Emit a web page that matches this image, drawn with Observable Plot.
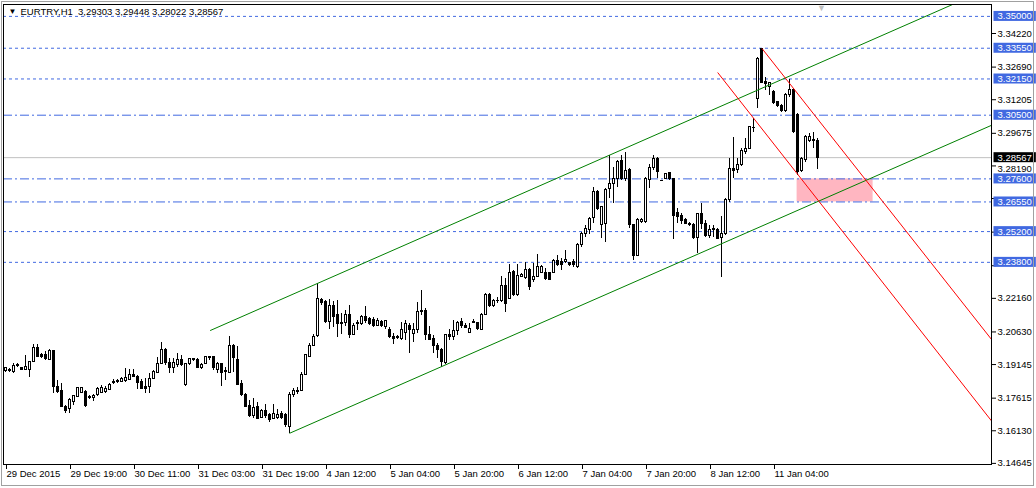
<!DOCTYPE html>
<html><head><meta charset="utf-8">
<script src="https://cdn.jsdelivr.net/npm/d3@7"></script>
<script src="https://cdn.jsdelivr.net/npm/@observablehq/plot@0.6"></script>
<style>
html,body{margin:0;padding:0;background:#fff;}
#chart{width:1036px;height:488px;}
</style></head><body><div id="chart"></div>
<script>
// ---- header ----
const symbolTitle = "EURTRY,H1\u00a0\u00a03,29303 3,29448 3,28022 3,28567";

// ---- OHLC (hourly bars, index 0 = 29 Dec 2015 03:00) ----
const open = [
3.1884,3.1891,3.1880,3.1906,3.1899,3.1890,3.1890,3.1928,3.1990,3.1956,
3.1959,3.1936,3.1975,3.1814,3.1796,3.1723,3.1713,3.1746,3.1766,3.1784,
3.1791,3.1769,3.1763,3.1774,3.1784,3.1789,3.1799,3.1836,3.1833,3.1834,
3.1839,3.1845,3.1865,3.1860,3.1834,3.1811,3.1811,3.1849,3.1875,3.1918,
3.1983,3.1921,3.1899,3.1913,3.1936,3.1822,3.1918,3.1933,3.1936,3.1898,
3.1918,3.1945,3.1948,3.1890,3.1915,3.1880,3.1877,3.1998,3.1936,3.1827,
3.1778,3.1728,3.1678,3.1723,3.1672,3.1705,3.1683,3.1667,3.1672,3.1690,
3.1687,3.1629,3.1777,3.1789,3.1796,3.1868,3.1951,3.2001,3.2044,3.2209,
3.2198,3.2108,3.2182,3.2138,3.2100,3.2103,3.2142,3.2051,3.2097,3.2100,
3.2133,3.2120,3.2118,3.2092,3.2108,3.2085,3.2073,3.2042,3.2036,3.2032,
3.2057,3.2092,3.2054,3.2070,3.2158,3.2158,3.2047,3.2029,3.2001,3.1983,
3.1922,3.2050,3.2039,3.2066,3.2108,3.2088,3.2057,3.2106,3.2103,3.2073,
3.2142,3.2229,3.2179,3.2203,3.2203,3.2270,3.2214,3.2335,3.2229,3.2315,
3.2308,3.2346,3.2300,3.2315,3.2331,3.2331,3.2331,3.2331,3.2385,3.2381,
3.2381,3.2376,3.2381,3.2361,3.2461,3.2507,3.2525,3.2583,3.2700,3.2552,
3.2555,3.2715,3.2738,3.2760,3.2841,3.2760,3.2801,3.2548,3.2411,3.2563,
3.2563,3.2756,3.2810,3.2851,3.2750,3.2760,3.2786,3.2760,3.2604,3.2593,
3.2575,3.2555,3.2552,3.2492,3.2598,3.2555,3.2502,3.2525,3.2528,3.2492,
3.2510,3.2662,3.2806,3.2801,3.2821,3.2882,3.2897,3.2992,3.3124,3.3352,
3.3200,3.3178,3.3155,3.3109,3.3094,3.3071,3.3140,3.3165,3.3053,3.2798,
3.2844,3.2932,3.2935,3.29303];
const high = [
3.1902,3.1895,3.1918,3.1918,3.1903,3.1956,3.1930,3.2006,3.2006,3.1963,
3.1975,3.1981,3.1978,3.1842,3.1827,3.1728,3.1759,3.1774,3.1811,3.1810,
3.1796,3.1774,3.1777,3.1808,3.1819,3.1814,3.1827,3.1845,3.1845,3.1857,
3.1895,3.1890,3.1890,3.1865,3.1845,3.1849,3.1872,3.1887,3.1945,3.2016,
3.1986,3.1941,3.1941,3.1963,3.1956,3.1921,3.1944,3.1942,3.1941,3.1918,
3.1951,3.1953,3.1951,3.1925,3.1921,3.1903,3.2044,3.2004,3.1997,3.1842,
3.1781,3.1751,3.1759,3.1743,3.1708,3.1733,3.1690,3.1733,3.1708,3.1701,
3.1690,3.1789,3.1804,3.1808,3.1880,3.1960,3.2009,3.2051,3.2282,3.2214,
3.2206,3.2209,3.2203,3.2206,3.2149,3.2161,3.2183,3.2100,3.2115,3.2138,
3.2179,3.2127,3.2130,3.2122,3.2115,3.2115,3.2082,3.2054,3.2047,3.2108,
3.2115,3.2103,3.2100,3.2198,3.2252,3.2168,3.2088,3.2047,3.2009,3.1989,
3.2051,3.2073,3.2115,3.2111,3.2126,3.2100,3.2100,3.2120,3.2108,3.2146,
3.2237,3.2237,3.2209,3.2221,3.2315,3.2305,3.2368,3.2343,3.2368,3.2328,
3.2381,3.2350,3.2376,3.2416,3.2366,3.2350,3.2335,3.2391,3.2411,3.2396,
3.2434,3.2381,3.2391,3.2465,3.2517,3.2548,3.2586,3.2722,3.2707,3.2634,
3.2715,3.2866,3.2810,3.2844,3.2866,3.2882,3.2806,3.2548,3.2578,3.2578,
3.2765,3.2826,3.2866,3.2856,3.2752,3.2786,3.2791,3.2763,3.2624,3.2601,
3.2578,3.2563,3.2555,3.2604,3.2646,3.2570,3.2548,3.2548,3.2533,3.2589,
3.2670,3.2851,3.2950,3.2851,3.2897,3.2942,3.2998,3.3033,3.3311,3.3356,
3.3223,3.3200,3.3162,3.3113,3.3097,3.3150,3.3211,3.3170,3.3056,3.2859,
3.2958,3.2965,3.2973,3.29448];
const low = [
3.1880,3.1880,3.1875,3.1903,3.1887,3.1887,3.1857,3.1925,3.1945,3.1941,
3.1933,3.1936,3.1781,3.1781,3.1720,3.1693,3.1690,3.1728,3.1763,3.1781,
3.1717,3.1755,3.1748,3.1771,3.1781,3.1784,3.1796,3.1824,3.1830,3.1831,
3.1834,3.1842,3.1854,3.1799,3.1799,3.1784,3.1784,3.1846,3.1872,3.1913,
3.1910,3.1875,3.1875,3.1903,3.1907,3.1814,3.1910,3.1930,3.1895,3.1890,
3.1915,3.1933,3.1887,3.1875,3.1816,3.1842,3.1872,3.1880,3.1819,3.1769,
3.1720,3.1672,3.1667,3.1663,3.1667,3.1667,3.1649,3.1663,3.1663,3.1663,
3.1629,3.1602,3.1766,3.1778,3.1793,3.1865,3.1945,3.1998,3.2039,3.2183,
3.2100,3.2073,3.2082,3.2039,3.2051,3.2088,3.2032,3.2047,3.2070,3.2092,
3.2100,3.2092,3.2082,3.2088,3.2082,3.2073,3.2032,3.2004,3.2027,3.2024,
3.2024,3.1966,3.2016,3.2054,3.2138,3.2024,3.2024,3.1966,3.1941,3.1903,
3.1915,3.2024,3.2024,3.2047,3.2077,3.2077,3.2054,3.2100,3.2070,3.2070,
3.2138,3.2176,3.2176,3.2191,3.2198,3.2153,3.2209,3.2224,3.2224,3.2313,
3.2300,3.2252,3.2290,3.2313,3.2328,3.2297,3.2297,3.2328,3.2361,3.2343,
3.2373,3.2361,3.2355,3.2350,3.2449,3.2495,3.2507,3.2555,3.2616,3.2487,
3.2472,3.2669,3.2646,3.2722,3.2753,3.2750,3.2533,3.2388,3.2411,3.2558,
3.2558,3.2715,3.2798,3.2760,3.2747,3.2757,3.2753,3.2482,3.2555,3.2552,
3.2552,3.2543,3.2482,3.2419,3.2528,3.2495,3.2487,3.2495,3.2482,3.2310,
3.2502,3.2654,3.2760,3.2786,3.2816,3.2870,3.2893,3.2973,3.3079,3.3193,
3.3162,3.3140,3.3101,3.3087,3.3064,3.3064,3.3132,3.2965,3.2775,3.2790,
3.2836,3.2927,3.2897,3.28022];
const close = [
3.1897,3.1886,3.1910,3.1913,3.1890,3.1903,3.1925,3.1990,3.1951,3.1948,
3.1941,3.1974,3.1811,3.1791,3.1723,3.1705,3.1751,3.1771,3.1807,3.1807,
3.1728,3.1761,3.1772,3.1804,3.1808,3.1804,3.1822,3.1831,3.1839,3.1849,
3.1854,3.1865,3.1860,3.1830,3.1804,3.1801,3.1849,3.1880,3.1918,3.1983,
3.1921,3.1899,3.1921,3.1936,3.1913,3.1918,3.1941,3.1939,3.1899,3.1913,
3.1948,3.1948,3.1899,3.1918,3.1875,3.1884,3.1998,3.1945,3.1822,3.1774,
3.1723,3.1678,3.1717,3.1667,3.1705,3.1678,3.1660,3.1690,3.1687,3.1672,
3.1637,3.1778,3.1792,3.1795,3.1869,3.1956,3.2001,3.2042,3.2214,3.2194,
3.2108,3.2179,3.2133,3.2100,3.2103,3.2142,3.2051,3.2092,3.2103,3.2133,
3.2115,3.2097,3.2092,3.2115,3.2088,3.2111,3.2039,3.2032,3.2042,3.2070,
3.2097,3.2073,3.2073,3.2156,3.2153,3.2047,3.2027,3.2001,3.1980,3.1925,
3.2050,3.2039,3.2066,3.2103,3.2088,3.2082,3.2077,3.2109,3.2077,3.2142,
3.2229,3.2179,3.2206,3.2206,3.2274,3.2191,3.2332,3.2229,3.2320,3.2323,
3.2346,3.2267,3.2315,3.2358,3.2358,3.2305,3.2300,3.2385,3.2370,3.2370,
3.2391,3.2370,3.2366,3.2461,3.2510,3.2533,3.2578,3.2700,3.2624,3.2631,
3.2710,3.2738,3.2760,3.2836,3.2760,3.2795,3.2548,3.2411,3.2574,3.2574,
3.2760,3.2810,3.2851,3.2791,3.2749,3.2783,3.2760,3.2593,3.2586,3.2570,
3.2555,3.2548,3.2492,3.2598,3.2555,3.2502,3.2528,3.2533,3.2487,3.2510,
3.2665,3.2806,3.2798,3.2821,3.2889,3.2898,3.2996,3.2991,3.3307,3.3196,
3.3193,3.3196,3.3105,3.3090,3.3071,3.3144,3.3165,3.2973,3.2790,3.2851,
3.2953,3.2950,3.2934,3.28567];

// ---- axes ----
const xTickBars = [0,16,32,48,64,80,96,112,128,144,160,176,192];
const xTickLabels = ["29 Dec 2015","29 Dec 19:00","30 Dec 11:00","31 Dec 03:00","31 Dec 19:00",
  "4 Jan 12:00","5 Jan 04:00","5 Jan 20:00","6 Jan 12:00","7 Jan 04:00","7 Jan 20:00","8 Jan 12:00","11 Jan 04:00"];
const yTickValues = [3.14645,3.16130,3.17615,3.19145,3.20630,3.22160,3.23645,3.25175,3.26705,3.28190,3.29675,3.31205,3.32690,3.34220];
const yTickHidden = [3.23645,3.25175,3.26705];
const yTickNudged = [3.28190];   // label pushed just below the current-price tag
const barDomain = [-0.5, 246.5];
const priceDomain = [3.14594, 3.35541];

// ---- horizontal levels ----
const levelPrices = [3.35000,3.33550,3.32150,3.30500,3.27600,3.26550,3.25200,3.23800];
const levelStyles = ["dash","dash","dash","dashdot","dashdot","dashdot","dash","dash"];
const lastPrice = 3.28567;
const shiftBar = 204;

// ---- trend objects ----
const greenUpperBars = [51.25, 246.5],  greenUpperPrices = [3.2070, 3.3632];
const greenLowerBars = [71.08, 246.5],  greenLowerPrices = [3.1602, 3.3004];
const redUpperBars   = [189.2, 246.5],  redUpperPrices   = [3.3352, 3.2029];
const redLowerBars   = [178.1, 246.5],  redLowerPrices   = [3.3243, 3.1658];
const zoneBars = [197.9, 216.9], zonePrices = [3.2760, 3.2655];

// ---- build tables ----
const bars = open.map((o, i) => ({i, o, h: high[i], l: low[i], c: close[i]}));
const seg = (bs, ps) => bs.map((b, k) => ({b, p: ps[k]}));
const levels = levelPrices.map((p, k) => ({p, s: levelStyles[k]}));
const zone = [{x1: zoneBars[0], x2: zoneBars[1], y1: zonePrices[0], y2: zonePrices[1]}];
const blue = "#4169e1";
const tags = levelPrices.map(p => ({p, bg: blue})).concat([{p: lastPrice, bg: "black"}]);

const svg = Plot.plot({
  width: 1036, height: 488,
  marginLeft: 3, marginRight: 45, marginTop: 4, marginBottom: 24,
  style: {fontFamily: "'Liberation Sans', Arial, sans-serif", fontSize: "9.5px", background: "white", color: "black"},
  x: {domain: barDomain},
  y: {domain: priceDomain},
  marks: [
    Plot.rect(zone, {x1: "x1", x2: "x2", y1: "y1", y2: "y2", fill: "#ffb6c1"}),
    Plot.ruleY(levels.filter(d => d.s === "dash"), {y: "p", stroke: blue, strokeDasharray: "3,3"}),
    Plot.ruleY(levels.filter(d => d.s === "dashdot"), {y: "p", stroke: blue, strokeDasharray: "9,3,2,3"}),
    Plot.ruleY([lastPrice], {stroke: "#c0c0c0"}),
    Plot.ruleX(bars, {x: "i", y1: "l", y2: "h", stroke: "black", shapeRendering: "crispEdges"}),
    Plot.rect(bars, {x1: d => d.i - 0.25, x2: d => d.i + 0.25, y1: "o", y2: "c",
      fill: d => d.c >= d.o ? "white" : "black", stroke: "black", shapeRendering: "crispEdges"}),
    Plot.line(seg(greenUpperBars, greenUpperPrices), {x: "b", y: "p", stroke: "#008000", strokeWidth: 1, clip: true}),
    Plot.line(seg(greenLowerBars, greenLowerPrices), {x: "b", y: "p", stroke: "#008000", strokeWidth: 1, clip: true}),
    Plot.line(seg(redUpperBars, redUpperPrices), {x: "b", y: "p", stroke: "red", strokeWidth: 1, clip: true}),
    Plot.line(seg(redLowerBars, redLowerPrices), {x: "b", y: "p", stroke: "red", strokeWidth: 1, clip: true}),
    Plot.frame({stroke: "black"}),
    Plot.axisX(xTickBars, {anchor: "bottom", tickSize: 5, tickPadding: 1, textAnchor: "start", dx: 1,
      label: null, tickFormat: d => xTickLabels[xTickBars.indexOf(d)]}),
    Plot.axisY(yTickValues, {anchor: "right", tickSize: 4, tickPadding: 2, textAnchor: "start", label: null,
      tickFormat: d => (yTickHidden.includes(d) || yTickNudged.includes(d)) ? "" : d.toFixed(5)}),
    Plot.text(yTickNudged, {y: d => d, text: d => d.toFixed(5), frameAnchor: "right", dx: 6, dy: 3,
      textAnchor: "start", fill: "black"}),
    Plot.text(tags, {y: "p", text: d => d.p.toFixed(5), frameAnchor: "right", dx: 6,
      textAnchor: "start", fill: "white"}),
    Plot.text(["\u25BC"], {frameAnchor: "top-left", dx: 5, dy: 4, fontSize: 8, textAnchor: "start", fill: "black"}),
    Plot.text([symbolTitle], {frameAnchor: "top-left", dx: 17, dy: 4, textAnchor: "start", fill: "black"}),
    Plot.text(["\u25BC"], {x: () => shiftBar, frameAnchor: "top", dy: 0, fontSize: 9, fill: "#c0c0c0"})
  ]
});
document.getElementById("chart").appendChild(svg);

// background boxes behind the price tags (sized from each text's own box)
d3.select(svg).selectAll("g[fill='white'] text").each(function () {
  const t = this, bb = t.getBBox();
  const isLast = t.textContent === lastPrice.toFixed(5);
  d3.select(t.parentNode).insert("rect", () => t)
    .attr("transform", t.getAttribute("transform"))
    .attr("x", bb.x - 4).attr("y", bb.y + 0.5)
    .attr("width", bb.width + 8).attr("height", Math.max(1, bb.height - 1))
    .attr("fill", isLast ? "black" : blue);
});

d3.select(svg).append("rect")
  .attr("x", 1.5).attr("y", 1.5).attr("width", 1032).attr("height", 484)
  .attr("fill", "none").attr("stroke", "#a0a0a0");
</script></body></html>
